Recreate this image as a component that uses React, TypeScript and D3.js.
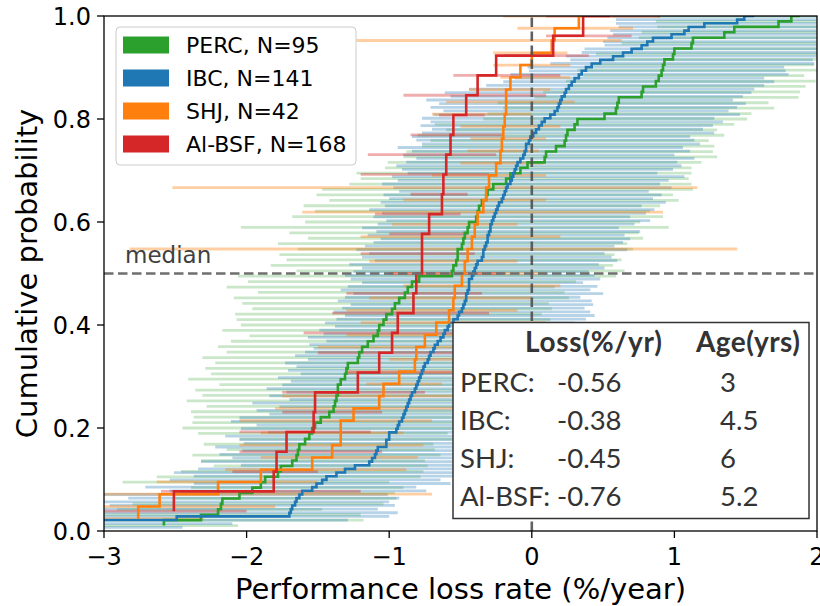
import React from "react";
import * as d3 from "d3";

// ---------- data ----------
const xTicks = [-3, -2, -1, 0, 1, 2];
const yTicks = [0, 0.2, 0.4, 0.6, 0.8, 1.0];

const legendLabels = ["PERC, N=95", "IBC, N=141", "SHJ, N=42", "Al-BSF, N=168"];
const seriesColors = ["#2ca02c", "#1f77b4", "#ff7f0e", "#d62728"];

// PERC: sorted loss rates and CI half-widths
const percLoss = [
  -2.58, -2.32, -2.2, -2.18, -2.17, -2.05, -1.96, -1.9, -1.87, -1.78,
  -1.76, -1.68, -1.65, -1.64, -1.63, -1.59, -1.56, -1.54, -1.52, -1.48,
  -1.42, -1.39, -1.38, -1.37, -1.36, -1.36, -1.34, -1.31, -1.3, -1.29,
  -1.22, -1.21, -1.19, -1.15, -1.11, -1.08, -1.07, -1.04, -1.02, -0.98,
  -0.96, -0.93, -0.89, -0.87, -0.84, -0.79, -0.56, -0.55, -0.53, -0.52,
  -0.52, -0.49, -0.48, -0.47, -0.45, -0.44, -0.39, -0.38, -0.37, -0.35,
  -0.32, -0.31, -0.27, -0.18, -0.15, -0.08, -0.03, 0.09, 0.1, 0.17,
  0.23, 0.24, 0.25, 0.3, 0.32, 0.51, 0.59, 0.6, 0.61, 0.77,
  0.78, 0.87, 0.89, 0.91, 0.92, 0.93, 0.99, 1.0, 1.12, 1.13,
  1.35, 1.42, 1.73, 1.82, 1.88,
];
const percErrLo = [
  0.6, 0.9, 0.9, 0.73, 0.63, 0.45, 0.5, 0.49, 1.0, 0.85,
  0.7, 0.55, 0.67, 0.74, 0.51, 0.71, 0.49, 0.8, 0.93, 0.9,
  0.95, 1.0, 0.9, 1.05, 0.95, 1.0, 0.85, 1.1, 0.95, 1.0,
  1.0, 1.1, 0.95, 1.05, 1.0, 0.9, 1.1, 1.0, 1.05, 1.1,
  1.0, 1.1, 1.2, 1.05, 1.3, 1.2, 1.5, 1.1, 1.3, 1.2,
  1.25, 1.15, 1.3, 1.1, 1.25, 1.6, 1.2, 1.3, 1.15, 1.25,
  1.1, 1.2, 1.2, 1.1, 1.05, 1.15, 1.0, 1.1, 1.0, 1.05,
  1.0, 0.95, 1.05, 0.9, 1.0, 0.85, 0.9, 0.8, 0.85, 0.75,
  0.7, 0.6, 0.65, 0.55, 0.6, 0.5, 0.45, 0.55, 0.4, 0.5,
  0.6, 0.65, 0.85, 0.95, 1.0,
];
const percErrHi = [
  0.52, 1.14, 1.0, 0.71, 1.13, 1.1, 1.0, 1.0, 0.87, 1.0,
  1.0, 0.95, 0.9, 1.0, 0.95, 0.9, 1.0, 0.95, 1.05, 1.0,
  1.0, 1.1, 1.05, 1.0, 1.1, 1.05, 1.0, 1.1, 1.05, 1.0,
  1.1, 1.0, 1.05, 1.1, 1.0, 1.05, 1.1, 1.0, 1.15, 1.05,
  1.1, 1.05, 1.15, 1.1, 1.0, 1.1, 1.15, 1.2, 1.1, 1.15,
  1.1, 1.2, 1.15, 1.25, 1.2, 1.4, 1.15, 1.3, 1.2, 1.25,
  1.35, 1.3, 1.4, 1.3, 1.25, 1.2, 1.15, 1.1, 1.2, 1.1,
  1.05, 1.0, 1.1, 1.0, 1.1, 1.0, 0.95, 1.1, 1.05, 1.1,
  1.1, 1.05, 1.1, 1.0, 1.1, 1.05, 1.1, 1.0, 1.05, 1.1,
  1.0, 1.1, 1.0, 1.05, 1.0,
];

// IBC
const ibcLoss = [
  -3.5, -3.3, -2.49, -1.7, -1.69, -1.68, -1.66, -1.65, -1.63, -1.61,
  -1.54, -1.51, -1.47, -1.44, -1.37, -1.31, -1.24, -1.14, -1.12, -1.1,
  -1.09, -1.08, -1.02, -1.02, -1.0, -1.0, -0.95, -0.94, -0.93, -0.91,
  -0.9, -0.89, -0.88, -0.87, -0.86, -0.85, -0.84, -0.82, -0.81, -0.8,
  -0.79, -0.78, -0.77, -0.76, -0.75, -0.73, -0.72, -0.71, -0.69, -0.68,
  -0.66, -0.64, -0.62, -0.61, -0.59, -0.58, -0.55, -0.52, -0.51, -0.49,
  -0.48, -0.47, -0.46, -0.46, -0.45, -0.44, -0.44, -0.44, -0.42, -0.41,
  -0.4, -0.39, -0.38, -0.35, -0.34, -0.34, -0.33, -0.32, -0.31, -0.31,
  -0.3, -0.29, -0.29, -0.28, -0.27, -0.26, -0.25, -0.24, -0.23, -0.21,
  -0.2, -0.19, -0.18, -0.17, -0.15, -0.14, -0.13, -0.12, -0.11, -0.1,
  -0.08, -0.06, -0.05, -0.04, -0.04, -0.02, -0.01, 0.01, 0.03, 0.05,
  0.07, 0.09, 0.13, 0.16, 0.18, 0.19, 0.2, 0.21, 0.23, 0.24,
  0.26, 0.28, 0.3, 0.33, 0.35, 0.38, 0.42, 0.48, 0.57, 0.64,
  0.7, 0.77, 0.81, 0.85, 0.98, 1.07, 1.1, 1.21, 1.44, 1.49, 1.56,
];
const ibcErrLo = [
  0.4, 0.5, 0.9, 1.5, 1.4, 1.6, 1.3, 1.5, 1.2, 1.4,
  1.0, 1.2, 0.9, 1.1, 1.0, 1.2, 1.1, 0.9, 1.2, 1.0,
  1.1, 0.95, 1.2, 1.0, 1.05, 1.15, 0.9, 1.1, 1.0, 1.2,
  1.15, 0.95, 1.05, 0.9, 1.1, 0.85, 1.0, 0.9, 1.05, 0.95,
  0.9, 1.0, 0.85, 0.95, 0.9, 1.0, 0.85, 0.95, 0.9, 0.85,
  0.9, 0.8, 0.95, 0.85, 0.9, 0.8, 0.9, 0.85, 0.8, 0.9,
  0.85, 0.8, 0.9, 0.85, 0.8, 0.9, 0.85, 0.75, 0.85, 0.9,
  0.85, 0.8, 0.9, 0.75, 0.85, 0.8, 0.9, 0.85, 0.8, 0.75,
  0.85, 0.8, 0.9, 0.8, 0.75, 0.85, 0.8, 0.9, 0.8, 0.85,
  0.8, 0.85, 0.75, 0.8, 0.9, 0.8, 0.85, 0.75, 0.8, 0.85,
  0.8, 0.75, 0.85, 0.8, 0.9, 0.75, 0.8, 0.85, 0.8, 0.75,
  0.85, 0.8, 0.9, 0.85, 0.8, 0.9, 0.85, 0.95, 0.8, 0.85,
  0.7, 0.6, 0.5, 0.45, 0.5, 0.4, 0.45, 0.35, 0.3, 0.4,
  0.35, 0.4, 0.3, 0.35, 0.45, 0.5, 0.55, 0.6, 0.85, 0.9, 1.0,
];
const ibcErrHi = [
  1.05, 1.2, 1.2, 0.7, 0.75, 0.6, 0.7, 0.65, 0.7, 0.6,
  0.8, 0.7, 0.9, 0.8, 0.85, 0.9, 0.8, 0.9, 0.85, 0.8,
  0.9, 0.85, 0.95, 0.9, 1.0, 0.85, 0.95, 0.9, 1.0, 0.9,
  1.0, 0.9, 1.0, 0.95, 0.9, 1.05, 0.95, 1.0, 0.9, 1.0,
  0.95, 0.9, 1.0, 0.9, 0.95, 0.85, 0.95, 0.9, 1.0, 0.9,
  0.95, 0.9, 0.85, 0.95, 0.9, 1.0, 0.85, 0.9, 0.95, 0.9,
  0.85, 0.9, 0.88, 0.8, 0.95, 0.85, 0.9, 0.8, 0.9, 0.85,
  0.8, 0.9, 0.85, 0.95, 0.9, 0.85, 1.0, 0.9, 0.95, 1.0,
  0.95, 1.05, 0.9, 1.0, 1.1, 0.95, 1.05, 1.1, 1.0, 1.15,
  1.05, 1.1, 1.0, 1.15, 1.05, 1.1, 1.2, 1.0, 1.1, 1.15,
  1.1, 1.2, 1.05, 1.15, 1.1, 1.2, 1.15, 1.1, 1.25, 1.15,
  1.2, 1.25, 1.15, 1.3, 1.2, 1.25, 1.3, 1.2, 1.25, 1.3,
  1.3, 1.35, 1.4, 1.3, 1.45, 1.4, 1.35, 1.5, 1.4, 1.45,
  1.4, 1.5, 1.45, 1.5, 1.4, 1.5, 1.45, 1.5, 1.4, 1.5, 1.5,
];

// SHJ: loss rates and CI bounds
const shjLoss = [
  -2.76, -2.61, -2.2, -1.9, -1.54, -1.4, -1.34, -1.34, -1.25, -1.07,
  -1.04, -0.93, -0.82, -0.81, -0.75, -0.67, -0.58, -0.55, -0.54, -0.49,
  -0.47, -0.45, -0.42, -0.4, -0.38, -0.34, -0.32, -0.3, -0.25, -0.22,
  -0.21, -0.2, -0.19, -0.18, -0.18, -0.15, -0.08, 0.0, 0.14, 0.16,
  0.33, 0.35,
];
const shjLow = [
  -3.2, -3.2, -3.2, -2.63, -2.15, -1.9, -2.05, -1.9, -2.05, -1.8,
  -1.75, -1.16, -1.3, -1.0, -1.5, -1.3, -1.2, -1.3, -1.14, -0.9,
  -1.0, -1.14, -2.82, -1.2, -0.98, -1.61, -0.9, -2.52, -0.7, -0.5,
  -0.45, -0.43, -0.5, -0.7, -0.6, -0.44, -0.22, -0.27, -0.27, -1.23,
  -0.1, -0.2,
];
const shjHigh = [
  -2.3, -1.8, -0.7, -1.5, -0.88, -0.8, -0.76, -0.9, -0.7, -0.5,
  -0.4, -0.63, -0.3, -0.2, -0.1, 0.0, 0.1, -0.1, 0.0, 0.2,
  0.1, -0.1, 1.44, 0.2, -0.1, 0.92, 0.1, 1.16, 0.1, 0.08,
  0.05, 0.1, 0.2, 0.0, 0.3, 0.13, 0.27, 0.27, 0.25, 0.63,
  0.71, 0.9,
];

// Al-BSF
const albsfLoss = [
  -2.51, -1.81, -1.79, -1.72, -1.53, -1.52, -1.22, -1.07, -0.98, -0.94,
  -0.83, -0.81, -0.77, -0.77, -0.72, -0.63, -0.62, -0.6, -0.57, -0.55,
  -0.46, -0.38, -0.25, 0.15, 0.36, 0.55,
];
const albsfLow = [
  -3.1, -2.6, -2.1, -2.05, -2.05, -1.75, -1.75, -1.29, -1.5, -1.6,
  -1.4, -1.3, -1.0, -1.2, -1.0, -1.1, -0.85, -1.2, -1.15, -0.85,
  -0.65, -0.9, -0.55, -0.2, 0.1, 0.1,
];
const albsfHigh = [
  -2.0, -1.2, -1.5, -1.05, -1.13, -1.05, -0.75, -0.56, -0.5, -0.4,
  -0.3, -0.35, -0.2, -0.4, -0.45, -0.5, -0.45, -0.3, -0.25, -0.2,
  -0.33, 0.1, 0.2, 0.4, 0.7, 0.9,
];

// summary table
const tableHeaders = ["Loss(%/yr)", "Age(yrs)"];
const tableNames = ["PERC:", "IBC:", "SHJ:", "Al-BSF:"];
const tableLoss = ["-0.56", "-0.38", "-0.45", "-0.76"];
const tableAge = ["3", "4.5", "6", "5.2"];

// ---------- layout ----------
const W = 820;
const H = 606;
const PL = 104;
const PR = 817;
const PT = 16;
const PB = 531;

type Bar = { y: number; lo: number; hi: number };
type Series = { color: string; loss: number[]; bars: Bar[]; barOpacity: number };

function cum(n: number, i: number) {
  return (i + 1) / n;
}

export default function App() {
  const x = d3.scaleLinear().domain([-3, 2]).range([PL, PR]);
  const y = d3.scaleLinear().domain([0, 1]).range([PB, PT]);

  const mk = (loss: number[], lo: number[], hi: number[]): Bar[] =>
    loss.map((v, i) => ({ y: cum(loss.length, i), lo: lo[i], hi: hi[i] }));

  const series: Series[] = [
    {
      color: seriesColors[0],
      loss: percLoss,
      bars: mk(percLoss, percLoss.map((v, i) => v - percErrLo[i]), percLoss.map((v, i) => v + percErrHi[i])),
      barOpacity: 0.25,
    },
    {
      color: seriesColors[1],
      loss: ibcLoss,
      bars: mk(ibcLoss, ibcLoss.map((v, i) => v - ibcErrLo[i]), ibcLoss.map((v, i) => v + ibcErrHi[i])),
      barOpacity: 0.32,
    },
    { color: seriesColors[2], loss: shjLoss, bars: mk(shjLoss, shjLow, shjHigh), barOpacity: 0.38 },
    { color: seriesColors[3], loss: albsfLoss, bars: mk(albsfLoss, albsfLow, albsfHigh), barOpacity: 0.38 },
  ];

  const line = d3
    .line<[number, number]>()
    .x((d) => x(d[0]))
    .y((d) => y(d[1]))
    .curve(d3.curveStepBefore);

  const font = "'DejaVu Sans', sans-serif";
  const tableFont = "Lato, 'Open Sans', sans-serif";
  const legendCenters = [45, 78, 111, 144];
  const rowBase = [391.7, 430, 468.3, 506];

  return (
    <svg
      width={W}
      height={H}
      viewBox={`0 0 ${W} ${H}`}
      style={{ position: "absolute", left: 0, top: 0, background: "#fff" }}
    >
      <defs>
        <clipPath id="plotClip">
          <rect x={PL} y={PT} width={PR - PL} height={PB - PT} />
        </clipPath>
      </defs>
      <rect x={0} y={0} width={W} height={H} fill="#fff" />

      <g clipPath="url(#plotClip)">
        {series.map((s, si) => (
          <g key={"bars" + si} stroke={s.color} strokeOpacity={s.barOpacity} strokeWidth={2.8}>
            {s.bars.map((b, i) => (
              <line key={i} x1={x(b.lo)} x2={x(b.hi)} y1={y(b.y)} y2={y(b.y)} />
            ))}
          </g>
        ))}
        {series.map((s, si) => (
          <path
            key={"step" + si}
            d={line(s.loss.map((v, i) => [v, cum(s.loss.length, i)] as [number, number])) || ""}
            fill="none"
            stroke={s.color}
            strokeWidth={2.6}
          />
        ))}
        <line
          x1={PL}
          x2={PR}
          y1={y(0.5)}
          y2={y(0.5)}
          stroke="#6f6f6f"
          strokeWidth={2.6}
          strokeDasharray="9.5,4.5"
        />
        <line
          x1={x(0)}
          x2={x(0)}
          y1={y(0)}
          y2={y(1)}
          stroke="#505050"
          strokeOpacity={0.9}
          strokeWidth={2.6}
          strokeDasharray="9.5,4.5"
        />
      </g>

      <text x={125} y={263} fontFamily={font} fontSize={23} fill="#404040">
        median
      </text>

      {/* frame */}
      <rect x={PL} y={PT} width={PR - PL} height={PB - PT} fill="none" stroke="#000" strokeWidth={1.3} />

      {/* y axis */}
      {yTicks.map((t) => (
        <g key={"yt" + t}>
          <line x1={PL - 7} x2={PL} y1={y(t)} y2={y(t)} stroke="#000" strokeWidth={1.3} />
          <text
            x={PL - 13}
            y={y(t)}
            dy="0.36em"
            textAnchor="end"
            fontFamily={font}
            fontSize={24}
            fill="#000"
          >
            {t.toFixed(1)}
          </text>
        </g>
      ))}
      {/* x axis */}
      {xTicks.map((t) => (
        <g key={"xt" + t}>
          <line x1={x(t)} x2={x(t)} y1={PB} y2={PB + 7} stroke="#000" strokeWidth={1.3} />
          <text x={x(t)} y={565} textAnchor="middle" fontFamily={font} fontSize={24} fill="#000">
            {t < 0 ? "\u2212" + Math.abs(t) : String(t)}
          </text>
        </g>
      ))}
      <text x={(PL + PR) / 2} y={599} textAnchor="middle" fontFamily={font} fontSize={29} fill="#000">
        Performance loss rate (%/year)
      </text>
      <text
        transform={`translate(37, ${(PT + PB) / 2}) rotate(-90)`}
        textAnchor="middle"
        fontFamily={font}
        fontSize={29}
        fill="#000"
      >
        Cumulative probability
      </text>

      {/* legend */}
      <rect x={116} y={27} width={240} height={138} rx={4} fill="#fff" fillOpacity={0.8} stroke="#cccccc" strokeWidth={1} />
      {legendLabels.map((lab, i) => (
        <g key={"lg" + i}>
          <rect x={123} y={legendCenters[i] - 8.5} width={46} height={17} fill={seriesColors[i]} />
          <text x={186} y={legendCenters[i] + 8} fontFamily={font} fontSize={22} fill="#000">
            {lab}
          </text>
        </g>
      ))}

      {/* summary table */}
      <rect x={453} y={322.5} width={356} height={196} fill="#fff" stroke="#333" strokeWidth={1.5} />
      <text x={525} y={351.7} fontFamily={tableFont} fontSize={28} fontWeight="bold" letterSpacing={0.7} fill="#333">
        {tableHeaders[0]}
      </text>
      <text x={696} y={351.7} fontFamily={tableFont} fontSize={28} fontWeight="bold" letterSpacing={0.4} fill="#333">
        {tableHeaders[1]}
      </text>
      {tableNames.map((nm, i) => (
        <g key={"tr" + i} fontFamily={tableFont} fontSize={27.5} fill="#333">
          <text x={460} y={rowBase[i]}>{nm}</text>
          <text x={557} y={rowBase[i]}>{tableLoss[i]}</text>
          <text x={720} y={rowBase[i]}>{tableAge[i]}</text>
        </g>
      ))}
    </svg>
  );
}
